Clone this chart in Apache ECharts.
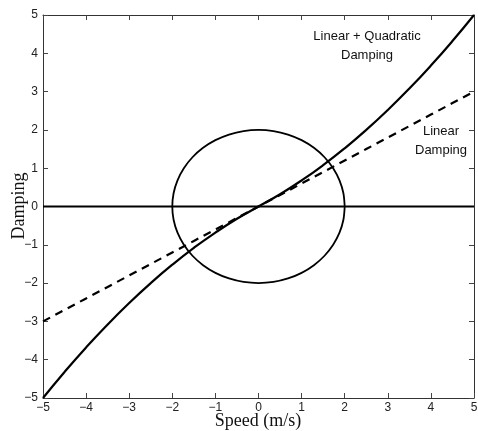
<!DOCTYPE html>
<html><head><meta charset="utf-8">
<script src="https://cdn.jsdelivr.net/npm/echarts@6/dist/echarts.min.js"></script>
<style>html,body{margin:0;padding:0;background:#fff}#c{width:478px;height:431px}</style>
</head><body><div id="c"></div>
<script>
const xTicks = [-5,-4,-3,-2,-1,0,1,2,3,4,5];
const yTicks = [-5,-4,-3,-2,-1,0,1,2,3,4,5];
const speedX = [-5,-4.5,-4,-3.5,-3,-2.5,-2,-1.5,-1,-0.5,0,0.5,1,1.5,2,2.5,3,3.5,4,4.5,5];
const linearY = [-3,-2.7,-2.4,-2.1,-1.8,-1.5,-1.2,-0.9,-0.6,-0.3,0,0.3,0.6,0.9,1.2,1.5,1.8,2.1,2.4,2.7,3];
const quadY = [-5,-4.32,-3.68,-3.08,-2.52,-2.0,-1.52,-1.08,-0.68,-0.32,0,0.32,0.68,1.08,1.52,2.0,2.52,3.08,3.68,4.32,5];
const zeroX = [-5,5];
const zeroY = [0,0];
const circleX = [2,1.97,1.879,1.732,1.532,1.286,1,0.684,0.347,0,-0.347,-0.684,-1,-1.286,-1.532,-1.732,-1.879,-1.97,-2,-1.97,-1.879,-1.732,-1.532,-1.286,-1,-0.684,-0.347,0,0.347,0.684,1,1.286,1.532,1.732,1.879,1.97,2];
const circleY = [0,0.347,0.684,1,1.286,1.532,1.732,1.879,1.97,2,1.97,1.879,1.732,1.532,1.286,1,0.684,0.347,0,-0.347,-0.684,-1,-1.286,-1.532,-1.732,-1.879,-1.97,-2,-1.97,-1.879,-1.732,-1.532,-1.286,-1,-0.684,-0.347,0];
const labelQuad = ['Linear + Quadratic','Damping'];
const labelLin = ['Linear','Damping'];
const xTitle = 'Speed (m/s)';
const yTitle = 'Damping';

const zip = (a,b) => a.map((v,i)=>[v,b[i]]);
const fmt = v => String(v).replace('-', '\u2212');
const tickFont = {fontFamily:'Liberation Sans, Arial, sans-serif', fontSize:12, color:'#222'};
const axLine = {show:true, onZero:false, lineStyle:{color:'#333', width:1}};
const tick = {show:true, inside:true, length:5, lineStyle:{color:'#444', width:1}};
const titleFont = '18px "Liberation Serif", "Times New Roman", serif';

const chart = echarts.init(document.getElementById('c'));
chart.setOption({
  animation:false,
  grid:{left:43, right:4, top:15, bottom:33, containLabel:false, outerBoundsMode:'none'},
  xAxis:[
    {type:'value', min:xTicks[0], max:xTicks[xTicks.length-1], interval:1, position:'bottom',
     axisLine:axLine, axisTick:tick, splitLine:{show:false},
     axisLabel:Object.assign({margin:4, formatter:fmt}, tickFont)},
    {type:'value', min:-5, max:5, interval:1, position:'top',
     axisLine:axLine, axisTick:tick, splitLine:{show:false}, axisLabel:{show:false}}
  ],
  yAxis:[
    {type:'value', min:yTicks[0], max:yTicks[yTicks.length-1], interval:1, position:'left',
     axisLine:axLine, axisTick:tick, splitLine:{show:false},
     axisLabel:Object.assign({margin:5, formatter:fmt}, tickFont)},
    {type:'value', min:-5, max:5, interval:1, position:'right',
     axisLine:axLine, axisTick:tick, splitLine:{show:false}, axisLabel:{show:false}}
  ],
  series:[
    {type:'line', data:zip(zeroX,zeroY), symbol:'none', lineStyle:{color:'#000', width:2}},
    {type:'line', data:zip(speedX,linearY), symbol:'none', lineStyle:{color:'#000', width:2.2, type:[8,6]}},
    {type:'line', data:zip(speedX,quadY), symbol:'none', smooth:true, lineStyle:{color:'#000', width:2.2}},
    {type:'line', data:zip(circleX,circleY), symbol:'none', smooth:0.3, lineStyle:{color:'#000', width:1.8}}
  ],
  graphic:[
    {type:'text', x:367, y:27, style:{text:labelQuad.join('\n'), fill:'#111',
      font:'13px "Liberation Sans", Arial, sans-serif', lineHeight:19, textAlign:'center'}},
    {type:'text', x:441, y:122, style:{text:labelLin.join('\n'), fill:'#111',
      font:'13px "Liberation Sans", Arial, sans-serif', lineHeight:19, textAlign:'center'}},
    {type:'text', x:258, y:421, style:{text:xTitle, fill:'#111', font:titleFont,
      textAlign:'center', textVerticalAlign:'middle'}},
    {type:'text', x:19, y:206, rotation:Math.PI/2, style:{text:yTitle, fill:'#111', font:titleFont,
      textAlign:'center', textVerticalAlign:'middle'}}
  ]
});
</script></body></html>
